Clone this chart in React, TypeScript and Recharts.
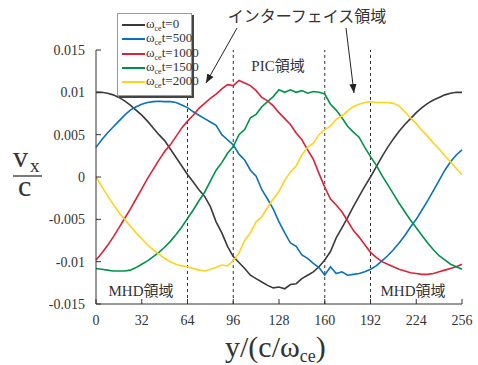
import { LineChart, Line, XAxis, YAxis, ReferenceLine } from 'recharts';

// positions along y/(c/ω_ce)
const positions = [
    0, 4, 8, 12, 16, 20, 24, 28, 32, 36, 40, 44, 48, 52, 56, 60, 64, 68, 72, 76, 80, 84, 88, 92, 96, 100,
    104, 108, 112, 116, 120, 124, 128, 132, 136, 140, 144, 148, 152, 156, 160, 164, 168, 172, 176, 180,
    184, 188, 192, 196, 200, 204, 208, 212, 216, 220, 224, 228, 232, 236, 240, 244, 248, 252, 256,
];

// v_x / c values, in units of 1e-3
const t0 = [
    10.0, 10.0, 9.9, 9.7, 9.4, 9.0, 8.5, 7.9, 7.3, 6.6, 5.8, 5.0, 4.3, 3.3, 2.3, 1.3, 0.3, -0.6, -1.5, -2.3,
    -3.5, -5.3, -6.6, -8.2, -9.4, -10.1, -10.8, -11.6, -12.0, -12.4, -12.8, -13.1, -13.0, -13.2, -12.7, -12.6,
    -12.0, -11.6, -11.2, -10.6, -9.8, -8.8, -7.2, -6.0, -4.8, -3.5, -2.3, -1.1, 0.0, 1.2, 2.4, 3.5, 4.5, 5.4,
    6.2, 6.9, 7.6, 8.2, 8.7, 9.1, 9.4, 9.7, 9.9, 10.0, 10.0,
];
const t500 = [
    3.5, 4.4, 5.2, 5.9, 6.6, 7.3, 7.9, 8.3, 8.6, 8.8, 8.9, 8.95, 8.9, 8.9, 8.8, 8.5, 8.2, 7.7, 7.3, 6.9, 6.5,
    6.1, 5.0, 4.4, 3.8, 2.7, 2.0, 0.8, 0.1, -1.5, -2.6, -3.8, -5.3, -6.6, -7.8, -8.2, -9.2, -9.6, -10.2,
    -10.7, -11.6, -10.6, -11.4, -11.2, -11.6, -11.5, -11.4, -11.2, -10.9, -10.5, -9.9, -9.3, -8.6, -7.8,
    -6.9, -5.9, -5.0, -3.9, -2.8, -1.6, -0.4, 0.8, 1.8, 2.6, 3.2,
];
const t1000 = [
    -9.8, -9.0, -8.1, -7.1, -6.0, -4.9, -3.8, -2.6, -1.4, -0.2, 0.9, 2.0, 3.0, 3.8, 4.8, 5.8, 6.6, 7.3, 8.1,
    8.7, 9.3, 9.8, 10.4, 10.9, 10.8, 11.4, 11.1, 10.8, 10.2, 9.4, 9.0, 8.4, 7.6, 6.9, 6.2, 5.2, 4.4, 3.2,
    2.1, 0.4, -1.2, -2.6, -3.3, -4.1, -5.2, -6.3, -7.1, -8.0, -8.9, -9.5, -10.0, -10.3, -10.6, -10.9, -11.1,
    -11.3, -11.4, -11.5, -11.5, -11.4, -11.2, -11.0, -10.8, -10.6, -10.3,
];
const t1500 = [
    -10.8, -10.9, -11.0, -11.1, -11.1, -11.1, -11.0, -10.7, -10.3, -9.9, -9.4, -8.9, -8.3, -7.6, -6.8, -5.9,
    -4.9, -3.9, -2.8, -1.8, -0.5, 0.8, 1.7, 2.8, 3.6, 5.0, 5.6, 7.0, 7.4, 8.3, 8.9, 9.5, 10.3, 10.0, 10.3,
    10.0, 10.2, 9.9, 10.1, 10.0, 9.8, 8.6, 7.9, 7.0, 6.0, 5.3, 4.7, 3.5, 2.4, 1.4, 0.2, -0.9, -2.0, -3.1,
    -4.1, -5.1, -6.0, -6.9, -7.8, -8.6, -9.3, -9.8, -10.3, -10.6, -10.9,
];
const t2000 = [
    0.0, -1.1, -2.2, -3.2, -4.2, -5.0, -5.8, -6.6, -7.3, -8.0, -8.6, -9.1, -9.6, -10.0, -10.3, -10.5, -10.6,
    -10.8, -11.0, -11.1, -10.9, -10.7, -10.4, -10.5, -9.9, -9.0, -7.5, -6.6, -5.3, -4.7, -3.6, -2.6, -1.7,
    -0.4, 0.6, 1.3, 2.6, 3.5, 4.0, 5.0, 5.6, 6.0, 6.8, 7.2, 7.8, 8.3, 8.6, 8.8, 8.9, 8.8, 8.8, 8.8, 8.7,
    8.4, 7.7, 7.0, 6.3, 5.5, 4.8, 4.0, 3.3, 2.5, 1.8, 1.0, 0.3,
];

const xTicks = [0, 32, 64, 96, 128, 160, 192, 224, 256];
const yTicks = [-0.015, -0.01, -0.005, 0, 0.005, 0.01, 0.015];
const regionBounds = [64, 96, 160, 192];

const SERIES = [
    { key: 't0', label: '0', values: t0, color: '#3a3a3a' },
    { key: 't500', label: '500', values: t500, color: '#0a72ba' },
    { key: 't1000', label: '1000', values: t1000, color: '#dc2238' },
    { key: 't1500', label: '1500', values: t1500, color: '#00924a' },
    { key: 't2000', label: '2000', values: t2000, color: '#fdd31c' },
];

const data = positions.map((y, i) => {
    const row: Record<string, number> = { y };
    SERIES.forEach((s) => {
        row[s.key] = s.values[i] / 1000;
    });
    return row;
});

const FONT = '"Liberation Serif", "Noto Sans CJK JP", serif';
const INK = '#333';

function LegendBox() {
    return (
        <div
            style={{
                position: 'absolute',
                left: 117,
                top: 13,
                width: 75,
                height: 83,
                background: '#fff',
                border: '1px solid #999',
                boxShadow: '2px 2px 0 #444',
                paddingTop: 4,
                boxSizing: 'border-box',
                fontFamily: FONT,
                color: INK,
            }}
        >
            {SERIES.map((s) => (
                <div
                    key={s.key}
                    style={{ display: 'flex', alignItems: 'center', height: 14.3, fontSize: 13 }}
                >
                    <span
                        style={{
                            flexShrink: 0,
                            width: 23,
                            height: 2,
                            background: s.color,
                            marginLeft: 4,
                            marginRight: 1,
                        }}
                    />
                    <span style={{ whiteSpace: 'nowrap', lineHeight: 1 }}>
                        ω<sub style={{ fontSize: 8, verticalAlign: -3 }}>ce</sub>t={s.label}
                    </span>
                </div>
            ))}
        </div>
    );
}

export default function App() {
    const tickStyle = { fontFamily: FONT, fontSize: 14, fill: INK };
    return (
        <div style={{ position: 'absolute', left: 0, top: 0, width: 478, height: 365 }}>
            <LineChart
                width={478}
                height={365}
                data={data}
                margin={{ top: 50, right: 16, bottom: 31, left: 0 }}
            >
                <XAxis
                    dataKey="y"
                    type="number"
                    domain={[0, 256]}
                    ticks={xTicks}
                    height={30}
                    tickSize={-5}
                    tickMargin={16}
                    tick={tickStyle}
                    stroke={INK}
                />
                <XAxis
                    xAxisId="top"
                    orientation="top"
                    type="number"
                    domain={[0, 256]}
                    ticks={xTicks}
                    height={0}
                    tickSize={-5}
                    tick={false}
                    stroke={INK}
                />
                <YAxis
                    type="number"
                    domain={[-0.015, 0.015]}
                    ticks={yTicks}
                    width={96}
                    tickSize={-5}
                    tickMargin={16}
                    tick={tickStyle}
                    tickFormatter={(v: number) => String(v)}
                    stroke={INK}
                />
                <YAxis
                    yAxisId="right"
                    orientation="right"
                    type="number"
                    domain={[-0.015, 0.015]}
                    ticks={yTicks}
                    width={0}
                    tickSize={-5}
                    tick={false}
                    stroke={INK}
                />
                {regionBounds.map((b) => (
                    <ReferenceLine key={b} x={b} stroke={INK} strokeDasharray="3 3" />
                ))}
                {SERIES.map((s) => (
                    <Line
                        key={s.key}
                        dataKey={s.key}
                        type="linear"
                        stroke={s.color}
                        strokeWidth={1.6}
                        dot={false}
                        isAnimationActive={false}
                    />
                ))}
            </LineChart>

            <LegendBox />

            <svg
                width={478}
                height={365}
                style={{ position: 'absolute', left: 0, top: 0, pointerEvents: 'none' }}
                fontFamily={FONT}
                fill={INK}
            >
                <defs>
                    <marker
                        id="head"
                        viewBox="0 0 10 10"
                        refX="10"
                        refY="5"
                        markerWidth="9"
                        markerHeight="9"
                        orient="auto"
                        markerUnits="userSpaceOnUse"
                    >
                        <path d="M0,1 L10,5 L0,9 z" fill="#222" />
                    </marker>
                </defs>
                <text x={307} y={22} fontSize={16} textAnchor="middle">
                    インターフェイス領域
                </text>
                <line x1={237} y1={28} x2={206} y2={83} stroke="#222" strokeWidth={1} markerEnd="url(#head)" />
                <line x1={346} y1={28} x2={354} y2={93} stroke="#222" strokeWidth={1} markerEnd="url(#head)" />
                <text x={278} y={71} fontSize={15} textAnchor="middle">
                    PIC領域
                </text>
                <text x={141} y={296} fontSize={15} textAnchor="middle">
                    MHD領域
                </text>
                <text x={413} y={296} fontSize={15} textAnchor="middle">
                    MHD領域
                </text>

                {/* y axis label: v_x / c */}
                <text x={13} y={167} fontSize={30}>
                    v
                </text>
                <text x={30} y={172} fontSize={19}>
                    x
                </text>
                <line x1={13} y1={176} x2={42} y2={176} stroke="#222" strokeWidth={1.2} />
                <text x={18} y={196} fontSize={30}>
                    c
                </text>

                {/* x axis label */}
                <text x={225} y={357} fontSize={30}>
                    y/(c/ω<tspan fontSize={18} dy={5}>ce</tspan>
                    <tspan dy={-5}>)</tspan>
                </text>
            </svg>
        </div>
    );
}
